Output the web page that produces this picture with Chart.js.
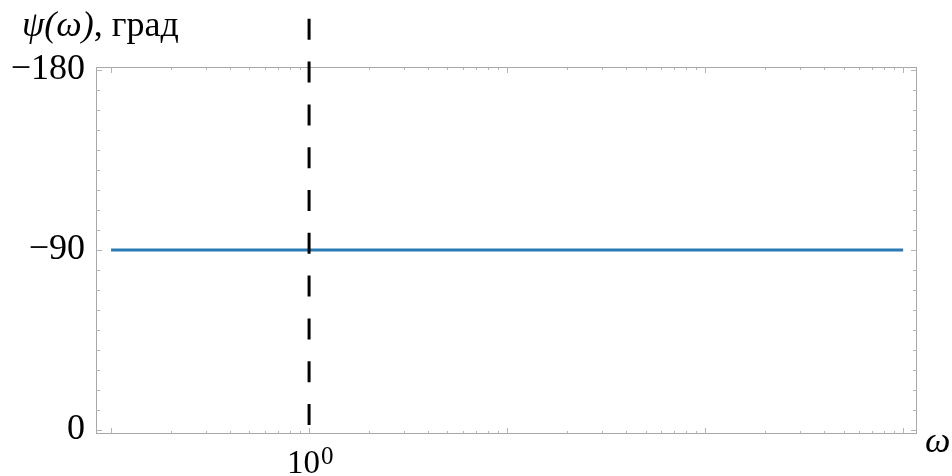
<!DOCTYPE html>
<html>
<head>
<meta charset="utf-8">
<script src="https://cdn.jsdelivr.net/npm/chart.js@4"></script>
<style>
  html, body { margin: 0; padding: 0; background: #fff; }
  #wrap { width: 952px; height: 476px; }
</style>
</head>
<body>
<div id="wrap"><canvas id="phaseChart"></canvas></div>
<script>
// Data
const omega = [0.1, 1000]
const psi = [-90, -90]
const markerOmega = [1, 1]
const markerPsi = [-2.5, -215]
const yTickValues = [-180, -90, 0]
const xMajorPowers = [-1, 0, 1, 2, 3]
const xLabelPower = 0

const serif = "'Liberation Serif', 'DejaVu Serif', serif"
const frameColor = "#a8a8a8"

const toPoints = (xs, ys) => xs.map((x, i) => ({ x: x, y: ys[i] }))

// frame with inward ticks on all four sides
const framePlugin = {
  id: "frame",
  beforeDatasetsDraw(chart) {
    const { ctx, chartArea: a, scales: { x, y } } = chart
    ctx.save()
    ctx.strokeStyle = frameColor
    ctx.lineWidth = 1
    ctx.strokeRect(a.left + 0.5, a.top + 0.5, a.right - a.left - 1, a.bottom - a.top - 1)

    ctx.strokeStyle = "#b4b4b4"
    ctx.beginPath()
    // x ticks
    xMajorPowers.forEach(p => {
      for (let m = 1; m <= 9; m++) {
        const v = m * Math.pow(10, p)
        const px = Math.round(x.getPixelForValue(v)) + 0.5
        if (px < a.left || px > a.right) continue
        const len = m === 1 ? 6 : 3
        ctx.moveTo(px, a.bottom); ctx.lineTo(px, a.bottom - len)
        ctx.moveTo(px, a.top); ctx.lineTo(px, a.top + len)
      }
    })
    // y ticks
    for (let v = -180; v <= 0; v += 10) {
      const py = Math.round(y.getPixelForValue(v)) + 0.5
      const len = yTickValues.includes(v) ? 6 : 4
      ctx.moveTo(a.left, py); ctx.lineTo(a.left + len, py)
      ctx.moveTo(a.right, py); ctx.lineTo(a.right - len, py)
    }
    ctx.stroke()
    ctx.restore()
  }
}

// axis titles and the 10^0 label
const labelPlugin = {
  id: "labels",
  afterDraw(chart) {
    const { ctx, scales: { x } } = chart
    ctx.save()
    ctx.fillStyle = "#000"
    ctx.textBaseline = "alphabetic"

    // y title
    ctx.textAlign = "left"
    ctx.font = "italic 36px " + serif
    let tx = 22
    const mathPart = "ψ(ω)"
    ctx.fillText(mathPart, tx, 36)
    tx += ctx.measureText(mathPart).width
    ctx.font = "36px " + serif
    ctx.fillText(", град", tx, 36)

    // x title
    ctx.font = "italic 36px " + serif
    ctx.fillText("ω", 925, 452)

    // 10^0
    const cx = x.getPixelForValue(Math.pow(10, xLabelPower))
    ctx.font = "33px " + serif
    const w = ctx.measureText("10").width
    const lx = cx - 22
    ctx.fillText("10", lx, 473)
    ctx.font = "25px " + serif
    ctx.fillText(String(xLabelPower), lx + w + 1, 464)
    ctx.restore()
  }
}

const phaseChart = document.querySelector("#phaseChart").getContext("2d")

const chart = new Chart(phaseChart, {
  type: "line",
  data: {
    datasets: [{
      data: toPoints(markerOmega, markerPsi),
      borderColor: "#000",
      borderWidth: 3,
      borderDash: [21, 21.8],
      pointRadius: 0,
      clip: false
    }, {
      data: toPoints(omega, psi),
      borderColor: "#2a7ab6",
      borderWidth: 3,
      pointRadius: 0
    }]
  },
  options: {
    responsive: true,
    maintainAspectRatio: false,
    animation: false,
    layout: {
      padding: { top: 67, right: 35, left: 0, bottom: 0 }
    },
    plugins: {
      legend: { display: false },
      tooltip: { enabled: false }
    },
    scales: {
      x: {
        type: "logarithmic",
        min: Math.pow(10, -1.076),
        max: Math.pow(10, 3.07),
        ticks: { display: false },
        grid: { display: false },
        border: { display: false },
        afterFit: (scale) => { scale.height = 42 }
      },
      y: {
        type: "linear",
        reverse: true,
        min: -181.5,
        max: 2,
        afterBuildTicks: (scale) => {
          scale.ticks = yTickValues.map(v => ({ value: v }))
        },
        ticks: {
          color: "#000",
          padding: 11,
          font: { family: serif, size: 36 },
          callback: (value) => value < 0 ? "\u2212" + Math.abs(value) : String(value)
        },
        grid: { display: false, drawTicks: false },
        border: { display: false },
        afterFit: (scale) => { scale.width = 96 }
      }
    }
  },
  plugins: [framePlugin, labelPlugin]
})
</script>
</body>
</html>
